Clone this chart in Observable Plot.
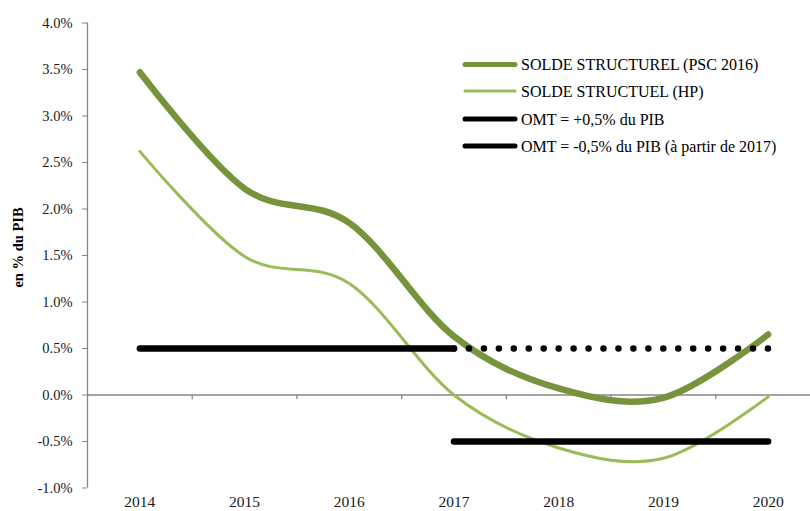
<!DOCTYPE html>
<html><head><meta charset="utf-8">
<script src="https://cdn.jsdelivr.net/npm/d3@7"></script>
<script src="https://cdn.jsdelivr.net/npm/@observablehq/plot@0.6"></script>
<style>body{margin:0;background:#fff;} #chart{position:relative;width:810px;height:511px;}</style>
</head><body><div id="chart"></div>
<script>
const years = [2014, 2015, 2016, 2017, 2018, 2019, 2020];
const pscValues = [3.47, 2.22, 1.85, 0.63, 0.07, -0.03, 0.65];
const hpValues = [2.62, 1.49, 1.20, 0.00, -0.57, -0.68, -0.02];
const omtPlusValue = 0.5;
const omtMinusValue = -0.5;
const omtPlusSolidYears = [2014, 2017];
const omtPlusDottedYears = [2017, 2020];
const omtMinusYears = [2017, 2020];
const yTicks = [-1, -0.5, 0, 0.5, 1, 1.5, 2, 2.5, 3, 3.5, 4];
const categoryBounds = [2014.5, 2015.5, 2016.5, 2017.5, 2018.5, 2019.5];
const legendNames = ["SOLDE STRUCTUREL (PSC 2016)", "SOLDE STRUCTUEL (HP)", "OMT = +0,5% du PIB", "OMT = -0,5% du PIB (à partir de 2017)"];
const yLabel = "en % du PIB";

const dark = "#77933C", light = "#9BBB59", axisGrey = "#868686";
const serif = "'Liberation Serif', 'Times New Roman', serif";
const psc = years.map((x, i) => ({x, y: pscValues[i]}));
const hp = years.map((x, i) => ({x, y: hpValues[i]}));
const omtSolid = omtPlusSolidYears.map(x => ({x, y: omtPlusValue}));
const omtDotted = omtPlusDottedYears.map(x => ({x, y: omtPlusValue}));
const omtMinus = omtMinusYears.map(x => ({x, y: omtMinusValue}));

const plot = Plot.plot({
  width: 810, height: 511,
  marginLeft: 87, marginRight: 0, marginTop: 22.5, marginBottom: 23.5,
  style: {fontFamily: serif, fontSize: "14px", color: "#1a1a1a", background: "#fff"},
  x: {domain: [2013.5, 2020.5], range: [87, 820]},
  y: {domain: [-1, 4]},
  marks: [
    Plot.ruleX([2013.5], {y1: -1, y2: 4, stroke: axisGrey, strokeWidth: 1.3}),
    Plot.ruleY([0], {stroke: axisGrey, strokeWidth: 1.3}),
    Plot.ruleX(categoryBounds, {y1: 0, y2: -0.05, stroke: axisGrey, strokeWidth: 1.3}),
    Plot.axisY({ticks: yTicks, tickFormat: d => d.toFixed(1) + "%", tickSize: 5, tickPadding: 10, stroke: axisGrey, label: null, fontSize: 14.5}),
    Plot.axisX({ticks: years, tickFormat: d => String(d), tickSize: 0, tickPadding: 8, label: null, fontSize: 15.5}),
    Plot.text([yLabel], {frameAnchor: "left", textAnchor: "middle", rotate: -90, dx: -69, dy: -8, fontWeight: "bold", fontSize: 14.5, fill: "#000"}),
    Plot.line(hp, {x: "x", y: "y", curve: "cardinal", stroke: light, strokeWidth: 3, strokeLinecap: "round"}),
    Plot.line(psc, {x: "x", y: "y", curve: "cardinal", stroke: dark, strokeWidth: 6.5, strokeLinecap: "round"}),
    Plot.line(omtSolid, {x: "x", y: "y", stroke: "#000", strokeWidth: 6.5, strokeLinecap: "round"}),
    Plot.line(omtDotted, {x: "x", y: "y", stroke: "#000", strokeWidth: 6.5, strokeLinecap: "round", strokeDasharray: "0 14.95"}),
    Plot.line(omtMinus, {x: "x", y: "y", stroke: "#000", strokeWidth: 6.5, strokeLinecap: "round"})
  ]
});
document.getElementById("chart").appendChild(plot);

// Legend
const legendStyles = [
  {stroke: dark, width: 5},
  {stroke: light, width: 3},
  {stroke: "#000", width: 5},
  {stroke: "#000", width: 5}
];
const svg = d3.select(plot);
const lg = svg.append("g").attr("font-family", serif).attr("font-size", 16).attr("text-anchor", "start");
const rowY = [64.5, 91, 119, 146];
legendNames.forEach((name, i) => {
  lg.append("line").attr("x1", 465).attr("x2", 515).attr("y1", rowY[i]).attr("y2", rowY[i])
    .attr("stroke", legendStyles[i].stroke).attr("stroke-width", legendStyles[i].width).attr("stroke-linecap", "round");
  lg.append("text").attr("x", 521).attr("y", rowY[i]).attr("dy", "0.35em").attr("fill", "#000").text(name);
});
</script>
</body></html>
